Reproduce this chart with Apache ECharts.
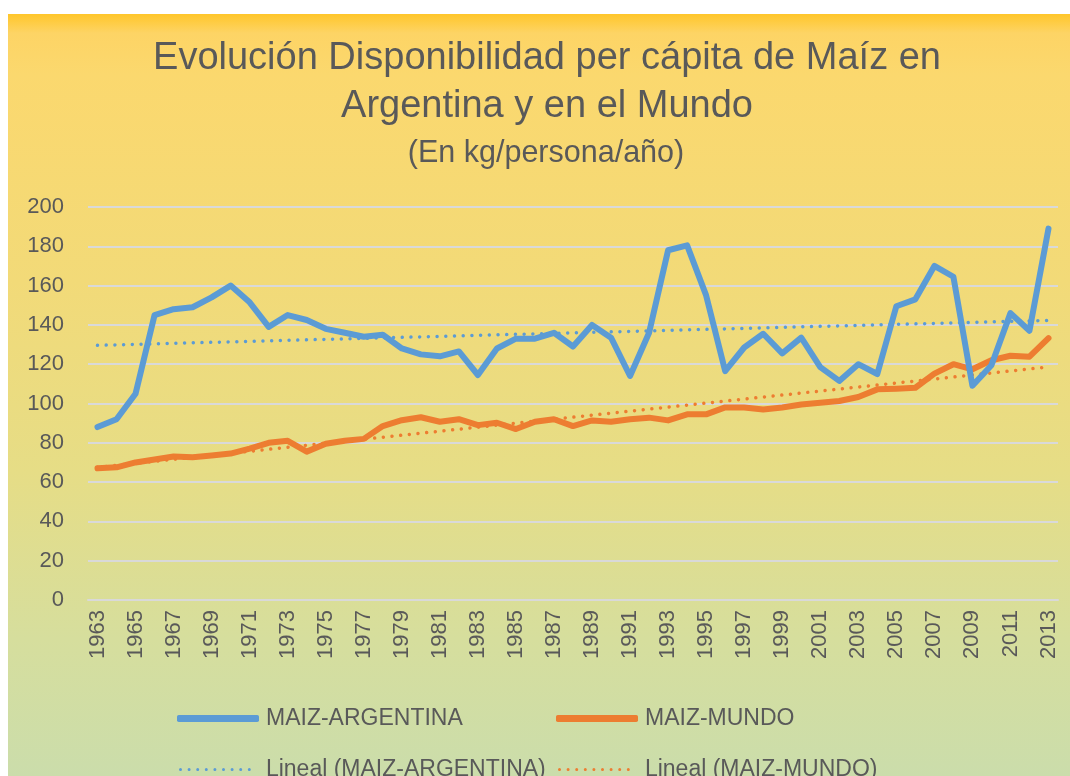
<!DOCTYPE html>
<html>
<head>
<meta charset="utf-8">
<script src="https://cdn.jsdelivr.net/npm/echarts@6/dist/echarts.min.js"></script>
<style>
  html, body { margin: 0; padding: 0; background: #fff; }
  .panel {
    position: absolute; left: 8px; top: 14px; width: 1062px; height: 762px;
    background: linear-gradient(to bottom, #ffc62a 0%, #fdd465 2.5%, #fbd86e 8%, #f2da78 35%, #e6dd86 60%, #d6de9d 82%, #cbddab 100%);
  }
  #chart { position: absolute; left: 0; top: 0; width: 1070px; height: 776px; }
</style>
</head>
<body>
<div class="panel"></div>
<div id="chart"></div>
<script>
// años (eje x)
var years = [
  "1963", "1964", "1965", "1966", "1967", "1968", "1969", "1970", "1971", "1972",
  "1973", "1974", "1975", "1976", "1977", "1978", "1979", "1980", "1981", "1982",
  "1983", "1984", "1985", "1986", "1987", "1988", "1989", "1990", "1991", "1992",
  "1993", "1994", "1995", "1996", "1997", "1998", "1999", "2000", "2001", "2002",
  "2003", "2004", "2005", "2006", "2007", "2008", "2009", "2010", "2011", "2012",
  "2013"
];

// kg/persona/año
var maizArgentina = [
  88, 92, 105, 145, 148, 149, 154, 160, 151.5, 139,
  145, 142.5, 138, 136, 134, 135, 128, 125, 124, 126.5,
  114.5, 128, 133, 133, 136, 129, 140, 133.5, 114, 136,
  178, 180.5, 155, 116.5, 128.5, 135.5, 125.5, 133.5, 118.5, 111.5,
  120, 115, 149.5, 153, 170, 164.5, 109, 119.5, 146, 137,
  189
];
var maizMundo = [
  67, 67.5, 70, 71.5, 73, 72.7, 73.5, 74.5, 77, 80,
  81, 75.5, 79.5, 81, 82, 88.5, 91.5, 93, 90.7, 92,
  89, 90.2, 87, 90.7, 92, 88.5, 91.4, 90.7, 92, 92.8,
  91.4, 94.5, 94.5, 98, 98, 97, 98, 99.5, 100.4, 101.3,
  103.3, 107.2, 107.5, 108, 115.2, 120, 117.4, 122, 124.3, 123.8,
  133.3
];

// extremos de las líneas de tendencia
var linealArgentina = [129.6, 142.3];
var linealMundo = [67.5, 118.6];

var yTicks = { min: 0, max: 200, interval: 20 };

var textColor = "#595959";
var font = "Liberation Sans";

// icono punteado para la leyenda de las tendencias
var dots = "";
for (var i = 0; i < 9; i++) {
  var cx = 1.5 + i * 8.6;
  dots += "M" + (cx - 1.5) + ",1.5a1.5,1.5 0 1,0 3,0a1.5,1.5 0 1,0 -3,0z";
}
var dottedIcon = "path://" + dots;

var chart = echarts.init(document.getElementById("chart"));

function legendAt(name, left, top, dotted) {
  return {
    data: [name],
    left: left,
    top: top,
    icon: dotted ? dottedIcon : "roundRect",
    itemWidth: dotted ? 72 : 82,
    itemHeight: dotted ? 3 : 7,
    itemGap: 9,
    itemStyle: { borderWidth: 0 },
    textStyle: {
      color: textColor,
      fontSize: 23,
      fontFamily: font,
      padding: dotted ? [0, 0, 0, 10] : [0, 0, 0, 2]
    }
  };
}

chart.setOption({
  backgroundColor: "transparent",
  animation: false,
  title: [
    {
      text: "Evolución Disponibilidad per cápita de Maíz en\nArgentina y en el Mundo",
      left: 542,
      textAlign: "center",
      top: 30,
      textStyle: {
        color: textColor,
        fontFamily: font,
        fontSize: 38,
        fontWeight: "normal",
        lineHeight: 48
      }
    },
    {
      text: "(En kg/persona/año)",
      left: 541,
      textAlign: "center",
      top: 133,
      textStyle: {
        color: textColor,
        fontFamily: font,
        fontSize: 30.5,
        fontWeight: "normal"
      }
    }
  ],
  legend: [
    legendAt("MAIZ-ARGENTINA", 172, 702, false),
    legendAt("MAIZ-MUNDO", 551, 702, false),
    legendAt("Lineal (MAIZ-ARGENTINA)", 174, 753, true),
    legendAt("Lineal (MAIZ-MUNDO)", 553, 753, true)
  ],
  grid: {
    left: 88,
    top: 207,
    width: 970,
    height: 393,
    containLabel: false
  },
  xAxis: {
    type: "category",
    data: years,
    boundaryGap: true,
    axisLine: { show: true, lineStyle: { color: "#d9d9d9", width: 2 } },
    axisTick: { show: false },
    axisLabel: {
      interval: 1,
      rotate: 90,
      margin: 10,
      color: textColor,
      fontSize: 22,
      fontFamily: font
    }
  },
  yAxis: {
    type: "value",
    min: yTicks.min,
    max: yTicks.max,
    interval: yTicks.interval,
    axisLine: { show: false },
    axisTick: { show: false },
    axisLabel: {
      margin: 24,
      color: textColor,
      fontSize: 22,
      fontFamily: font
    },
    splitLine: { show: true, lineStyle: { color: "#d9d9d9", width: 2 } }
  },
  series: [
    {
      name: "Lineal (MAIZ-ARGENTINA)",
      type: "line",
      symbol: "none",
      z: 1,
      data: [[years[0], linealArgentina[0]], [years[years.length - 1], linealArgentina[1]]],
      lineStyle: { color: "#5b9bd5", width: 3.5, type: [0.01, 8.7], cap: "round" },
      itemStyle: { color: "#5b9bd5" }
    },
    {
      name: "Lineal (MAIZ-MUNDO)",
      type: "line",
      symbol: "none",
      z: 1,
      data: [[years[0], linealMundo[0]], [years[years.length - 1], linealMundo[1]]],
      lineStyle: { color: "#ed7d31", width: 3.5, type: [0.01, 8.7], cap: "round" },
      itemStyle: { color: "#ed7d31" }
    },
    {
      name: "MAIZ-ARGENTINA",
      type: "line",
      symbol: "none",
      z: 3,
      data: maizArgentina,
      lineStyle: { color: "#5b9bd5", width: 6, cap: "round", join: "round" },
      itemStyle: { color: "#5b9bd5" }
    },
    {
      name: "MAIZ-MUNDO",
      type: "line",
      symbol: "none",
      z: 2,
      data: maizMundo,
      lineStyle: { color: "#ed7d31", width: 6, cap: "round", join: "round" },
      itemStyle: { color: "#ed7d31" }
    }
  ]
});
</script>
</body>
</html>
